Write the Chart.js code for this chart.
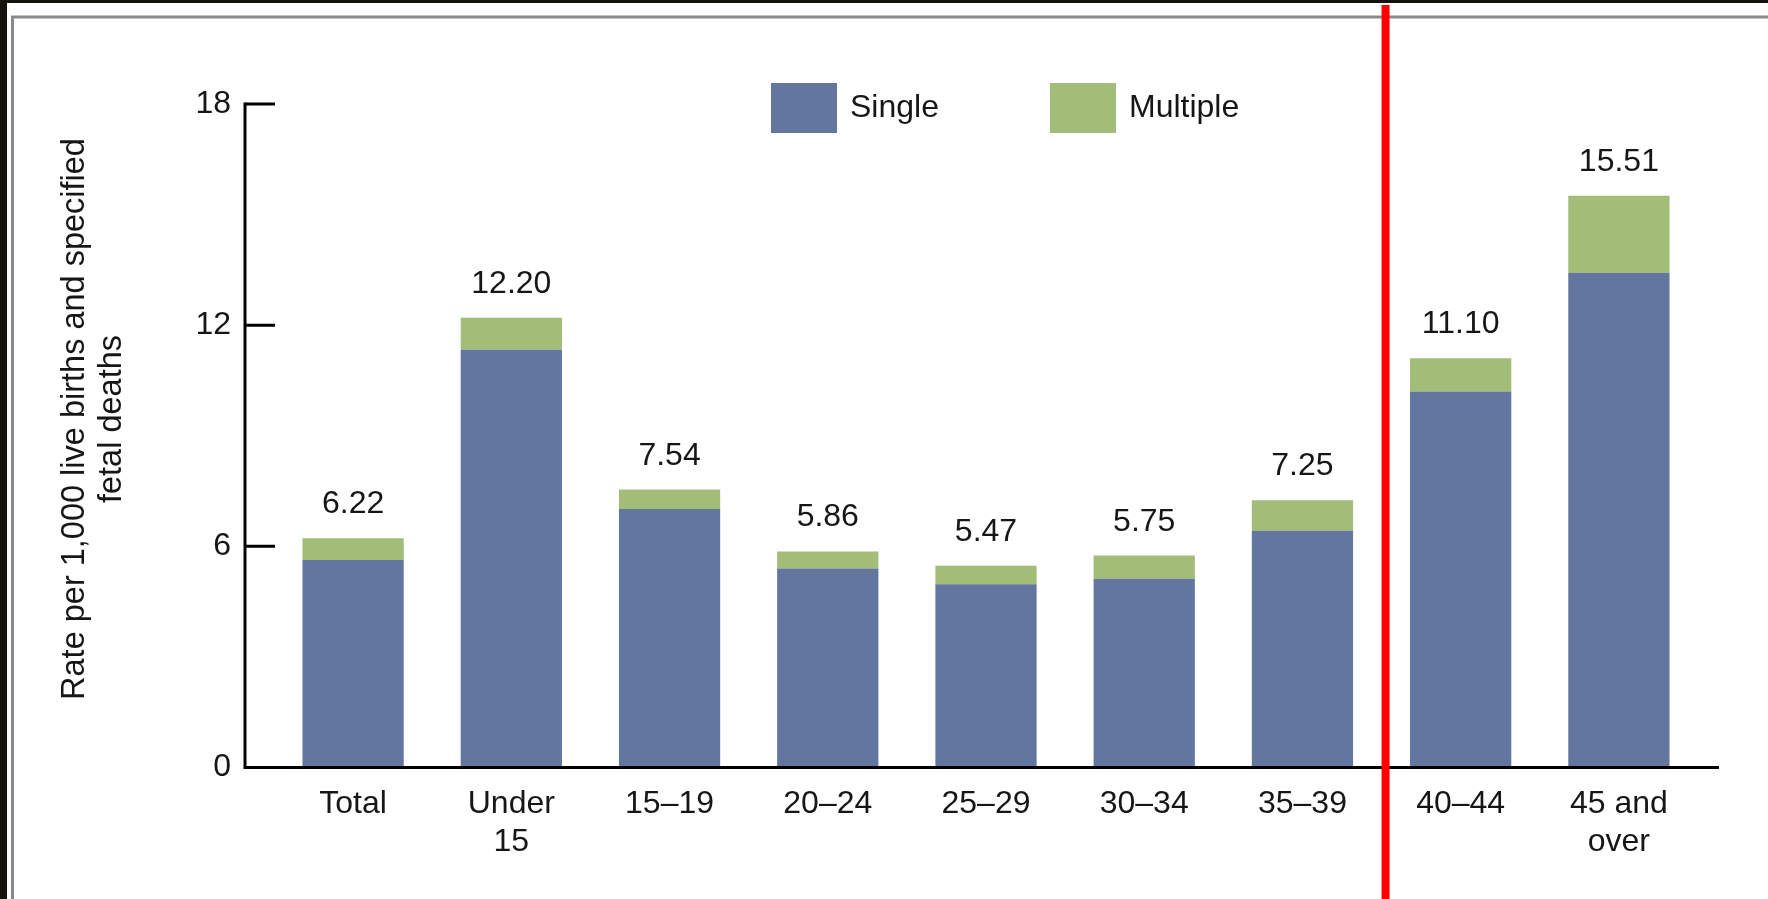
<!DOCTYPE html>
<html>
<head>
<meta charset="utf-8">
<title>Rate per 1,000 live births and specified fetal deaths</title>
<script src="https://cdn.jsdelivr.net/npm/chart.js@4.4.1/dist/chart.umd.min.js"></script>
<style>
  html, body { margin: 0; padding: 0; background: #fff; }
  canvas { display: block; }
</style>
</head>
<body>
<canvas id="grafico" width="1768" height="899"></canvas>
<script>
// categorias e valores (taxa por 1.000)
var categorias = ['Total', ['Under', '15'], '15–19', '20–24', '25–29', '30–34', '35–39', '40–44', ['45 and', 'over']];
var single   = [5.63, 11.33, 7.01, 5.40, 4.97, 5.12, 6.42, 10.20, 13.42];
var multiple = [0.59, 0.87, 0.53, 0.46, 0.50, 0.63, 0.83, 0.90, 2.09];
var totais   = [6.22, 12.20, 7.54, 5.86, 5.47, 5.75, 7.25, 11.10, 15.51];
var ticksY   = [0, 6, 12, 18];
var tituloY  = ['Rate per 1,000 live births and specified', 'fetal deaths'];

var fonte = '"Liberation Sans", Arial, sans-serif';
var corTexto = '#161616';
var azul = '#62769f';
var verde = '#a1bd77';

Chart.defaults.font.family = fonte;
Chart.defaults.color = corTexto;

// moldura, eixos, rotulos, legenda e linha vermelha
var desenhos = {
	id: 'desenhos',
	beforeDraw: function (chart) {
		var ctx = chart.ctx, w = chart.width, h = chart.height;
		ctx.save();
		ctx.fillStyle = '#fff';
		ctx.fillRect(0, 0, w, h);
		ctx.fillStyle = '#14130e';
		ctx.fillRect(0, 0, w, 3);
		ctx.fillRect(0, 0, 7, h);
		ctx.strokeStyle = '#8a8a8a';
		ctx.lineWidth = 3;
		ctx.beginPath();
		ctx.moveTo(12.5, h);
		ctx.lineTo(12.5, 17);
		ctx.lineTo(w, 17);
		ctx.stroke();
		ctx.restore();
	},
	afterDraw: function (chart) {
		var ctx = chart.ctx, area = chart.chartArea;
		var y = chart.scales.y, x = chart.scales.x;
		var eixo = area.left - 29;
		var base = y.getPixelForValue(0);

		ctx.save();
		// eixos
		ctx.strokeStyle = '#000';
		ctx.lineWidth = 3;
		ctx.lineJoin = 'miter';
		ctx.beginPath();
		ctx.moveTo(eixo, y.getPixelForValue(ticksY[ticksY.length - 1]) - 1.5);
		ctx.lineTo(eixo, base);
		ctx.lineTo(area.right + 21, base);
		ctx.stroke();
		ctx.beginPath();
		ticksY.forEach(function (v) {
			var py = y.getPixelForValue(v);
			ctx.moveTo(eixo, py);
			ctx.lineTo(eixo + 30, py);
		});
		ctx.stroke();

		// valores em cima das barras
		ctx.font = '32px ' + fonte;
		ctx.fillStyle = corTexto;
		ctx.textAlign = 'center';
		ctx.textBaseline = 'alphabetic';
		chart.getDatasetMeta(1).data.forEach(function (bar, i) {
			ctx.fillText(totais[i].toFixed(2), bar.x, bar.y - 25);
		});

		// legenda
		var posLegenda = [771, 1050];
		ctx.textAlign = 'left';
		ctx.textBaseline = 'middle';
		chart.data.datasets.forEach(function (ds, i) {
			ctx.fillStyle = ds.backgroundColor;
			ctx.fillRect(posLegenda[i], 83, 66, 50);
			ctx.fillStyle = corTexto;
			ctx.fillText(ds.label, posLegenda[i] + 79, 108);
		});

		// titulo do eixo y
		ctx.save();
		ctx.font = '32.5px ' + fonte;
		ctx.translate(75, 419);
		ctx.rotate(-Math.PI / 2);
		ctx.textAlign = 'center';
		ctx.fillText(tituloY[0], 0, 0);
		ctx.fillText(tituloY[1], 0, 37.5);
		ctx.restore();

		// linha vermelha entre 35-39 e 40-44
		var meio = (x.getPixelForValue(6) + x.getPixelForValue(7)) / 2;
		ctx.fillStyle = '#ff0000';
		ctx.fillRect(meio, 5, 8, chart.height - 5);
		ctx.restore();
	}
};

new Chart(document.getElementById('grafico'), {
	type: 'bar',
	data: {
		labels: categorias,
		datasets: [{
			label: 'Single',
			data: single,
			backgroundColor: azul,
			borderWidth: 0
		}, {
			label: 'Multiple',
			data: multiple,
			backgroundColor: verde,
			borderWidth: 0
		}]
	},
	options: {
		responsive: false,
		animation: false,
		layout: { padding: { left: 0, right: 70, top: 104, bottom: 0 } },
		datasets: { bar: { barPercentage: 0.64, categoryPercentage: 1 } },
		plugins: {
			legend: { display: false },
			tooltip: { enabled: false }
		},
		scales: {
			x: {
				stacked: true,
				grid: { display: false, drawTicks: false },
				border: { display: false },
				ticks: {
					font: { size: 32, lineHeight: 1.2 },
					color: corTexto,
					padding: 17,
					maxRotation: 0,
					autoSkip: false
				},
				afterFit: function (s) { s.height = 131.5; }
			},
			y: {
				stacked: true,
				min: 0,
				max: 18,
				grid: { display: false, drawTicks: false },
				border: { display: false },
				ticks: {
					stepSize: 6,
					font: { size: 32 },
					color: corTexto,
					padding: 43
				},
				afterFit: function (s) { s.width = 274; }
			}
		}
	},
	plugins: [desenhos]
});
</script>
</body>
</html>
